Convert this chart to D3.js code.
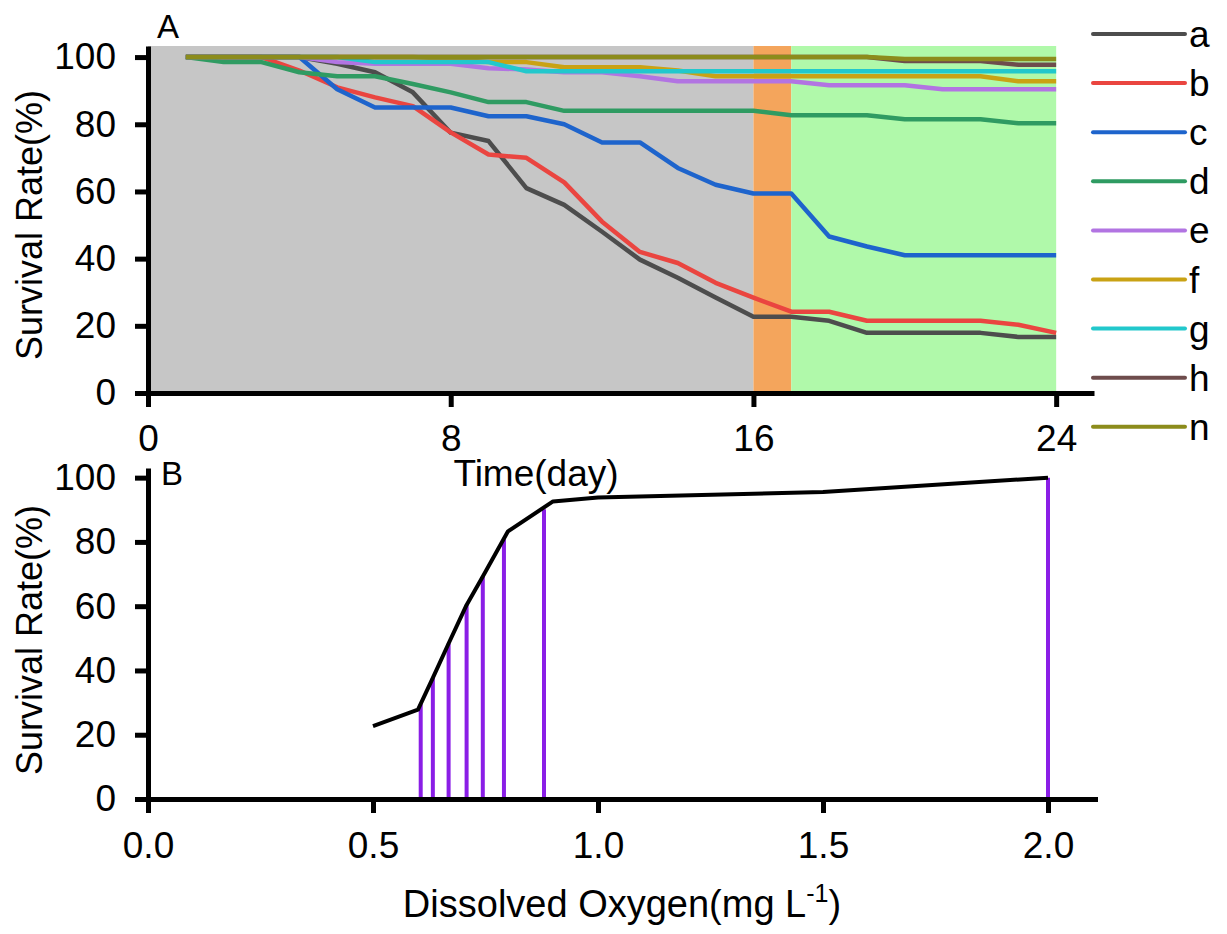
<!DOCTYPE html>
<html>
<head>
<meta charset="utf-8">
<script src="https://cdn.jsdelivr.net/npm/d3@7"></script>
<style>
  body { margin: 0; background: #fff; }
  svg text { font-family: "Liberation Sans", Arial, sans-serif; }
</style>
</head>
<body>
<svg id="chart" width="1227" height="934"></svg>
<script>
// panel A: survival over time, one value per day (day 1..24)
var days = d3.range(1, 25);
var seriesNames = ["a", "b", "c", "d", "e", "f", "g", "h", "n"];
var seriesColors = ["#4d4d4d", "#ea4540", "#1e64cc", "#2f9b62", "#b274e2", "#c9a214", "#22c8cc", "#6e4c4c", "#8c8c1c"];
var aVals = [100, 100, 100, 100, 98, 95.5, 89.5, 77.5, 75, 61, 56, 48, 39.7, 34.3, 28.4, 22.7, 22.7, 21.5, 17.9, 17.9, 17.9, 17.9, 16.7, 16.7];
var bVals = [100, 100, 100, 96, 91, 88, 85.4, 77.6, 71, 70, 62.7, 51, 42, 38.7, 32.8, 28.4, 24.2, 24.2, 21.5, 21.5, 21.5, 21.5, 20.3, 17.9];
var cVals = [100, 100, 100, 100, 90.4, 85, 85, 85, 82.4, 82.4, 80, 74.6, 74.6, 67, 62, 59.4, 59.4, 46.6, 43.6, 41, 41, 41, 41, 41];
var dVals = [100, 98.5, 98.5, 95.5, 94.3, 94.3, 92, 89.5, 86.6, 86.6, 84, 84, 84, 84, 84, 84, 82.7, 82.7, 82.7, 81.5, 81.5, 81.5, 80.3, 80.3];
var eVals = [100, 100, 100, 100, 98.5, 98, 98, 98, 96.7, 96.3, 95.5, 95.5, 94.3, 92.8, 92.8, 92.8, 92.8, 91.6, 91.6, 91.6, 90.4, 90.4, 90.4, 90.4];
var fVals = [100, 100, 100, 100, 100, 100, 100, 99.5, 98.5, 98.5, 97, 97, 97, 96, 94.3, 94.3, 94.3, 94.3, 94.3, 94.3, 94.3, 94.3, 92.8, 92.8];
var gVals = [100, 100, 100, 100, 100, 98.5, 98.5, 98.5, 98.5, 95.8, 95.8, 95.8, 95.8, 95.8, 95.8, 95.8, 95.8, 95.8, 95.8, 95.8, 95.8, 95.8, 95.8, 95.8];
var hVals = [100, 100, 100, 100, 100, 100, 100, 100, 100, 100, 100, 100, 100, 100, 100, 100, 100, 100, 100, 98.8, 98.8, 98.8, 97.7, 97.7];
var nVals = [100, 100, 100, 100, 100, 100, 100, 100, 100, 100, 100, 100, 100, 100, 100, 100, 100, 100, 100, 99.4, 99.4, 99.4, 99.4, 99.4];
var allVals = [aVals, bVals, cVals, dVals, eVals, fVals, gVals, hVals, nVals];
var xTicksA = [0, 8, 16, 24];
var yTicks = [0, 20, 40, 60, 80, 100];
// shaded periods (day ranges)
var periods = [[0, 16, "#c6c6c6"], [16, 17, "#f4a55c"], [17, 24, "#b0f9aa"]];

// panel B: survival vs dissolved oxygen
var doLine = [0.5, 0.6, 0.633, 0.668, 0.708, 0.744, 0.80, 0.90, 1.0, 1.5, 2.0];
var srLine = [22.7, 27.8, 37.7, 48.4, 60.4, 69.2, 83.3, 92.6, 93.8, 95.5, 100];
var doBars = [0.606, 0.633, 0.668, 0.708, 0.744, 0.791, 0.880, 2.0];
var srBars = [29.5, 37.7, 48.4, 60.4, 69.2, 80.8, 90.2, 100];
var xTicksB = [0, 0.5, 1.0, 1.5, 2.0];

var svg = d3.select("#chart");
var tickFont = 37;

function styleAxis(g) {
  g.selectAll("path").attr("stroke", "#000").attr("stroke-width", 5);
  g.selectAll("line").attr("stroke", "#000").attr("stroke-width", 5);
  g.selectAll("text").attr("fill", "#000").style("font-size", tickFont + "px")
    .style("font-family", "'Liberation Sans', Arial, sans-serif");
}

// ---------- Panel A ----------
var xA = d3.scaleLinear().domain([0, 25]).range([148, 1094]);
var yA = d3.scaleLinear().domain([0, 103.3]).range([393, 46]);

svg.append("g").selectAll("rect").data(periods).enter().append("rect")
  .attr("x", function (d) { return xA(d[0]); })
  .attr("width", function (d) { return xA(d[1]) - xA(d[0]); })
  .attr("y", yA(103.3))
  .attr("height", yA(0) - yA(103.3))
  .attr("fill", function (d) { return d[2]; });

var lineA = d3.line()
  .x(function (d, i) { return xA(days[i]); })
  .y(function (d) { return yA(d); });

svg.append("g").selectAll("path").data(allVals).enter().append("path")
  .attr("d", lineA)
  .attr("fill", "none")
  .attr("stroke", function (d, i) { return seriesColors[i]; })
  .attr("stroke-width", 4.5)
  .attr("stroke-linejoin", "round");

var gxA = svg.append("g").attr("transform", "translate(0," + yA(0) + ")")
  .call(d3.axisBottom(xA).tickValues(xTicksA).tickSize(14).tickSizeOuter(0).tickPadding(18));
styleAxis(gxA);
var gyA = svg.append("g").attr("transform", "translate(" + xA(0) + ",0)")
  .call(d3.axisLeft(yA).tickValues(yTicks).tickSize(13).tickSizeOuter(0).tickPadding(19));
styleAxis(gyA);

svg.append("text").attr("x", 157).attr("y", 38).style("font-size", "33px").text("A");
svg.append("text").attr("x", 536).attr("y", 486).attr("text-anchor", "middle")
  .style("font-size", "37px").text("Time(day)");
svg.append("text").attr("transform", "translate(42,225) rotate(-90)").attr("text-anchor", "middle")
  .style("font-size", "36px").text("Survival Rate(%)");

// legend
var legend = svg.append("g").selectAll("g").data(seriesNames).enter().append("g")
  .attr("transform", function (d, i) { return "translate(1093," + (34 + i * 49.1) + ")"; });
legend.append("line").attr("x1", 0).attr("x2", 92).attr("y1", 0).attr("y2", 0)
  .attr("stroke", function (d, i) { return seriesColors[i]; })
  .attr("stroke-width", 4).attr("stroke-linecap", "round");
legend.append("text").attr("x", 96).attr("y", 13).style("font-size", "37px")
  .text(function (d) { return d; });

// ---------- Panel B ----------
var xB = d3.scaleLinear().domain([0, 2.11]).range([148, 1097.5]);
var yB = d3.scaleLinear().domain([0, 103]).range([799, 468]);

svg.append("g").selectAll("line").data(doBars).enter().append("line")
  .attr("x1", function (d) { return xB(d); })
  .attr("x2", function (d) { return xB(d); })
  .attr("y1", yB(0))
  .attr("y2", function (d, i) { return yB(srBars[i]); })
  .attr("stroke", "#8a1ee6")
  .attr("stroke-width", 4);

var lineB = d3.line()
  .x(function (d, i) { return xB(doLine[i]); })
  .y(function (d) { return yB(d); });
svg.append("path").datum(srLine)
  .attr("d", lineB)
  .attr("fill", "none")
  .attr("stroke", "#000")
  .attr("stroke-width", 4)
  .attr("stroke-linejoin", "round");

var gxB = svg.append("g").attr("transform", "translate(0," + yB(0) + ")")
  .call(d3.axisBottom(xB).tickValues(xTicksB).tickFormat(d3.format(".1f")).tickSize(14).tickSizeOuter(0).tickPadding(19));
styleAxis(gxB);
var gyB = svg.append("g").attr("transform", "translate(" + xB(0) + ",0)")
  .call(d3.axisLeft(yB).tickValues(yTicks).tickSize(13).tickSizeOuter(0).tickPadding(19));
styleAxis(gyB);

svg.append("text").attr("x", 161).attr("y", 485).style("font-size", "33px").text("B");
svg.append("text").attr("transform", "translate(42,640) rotate(-90)").attr("text-anchor", "middle")
  .style("font-size", "36px").text("Survival Rate(%)");
var xt = svg.append("text").attr("x", 622).attr("y", 917).attr("text-anchor", "middle")
  .style("font-size", "38px");
xt.append("tspan").text("Dissolved Oxygen(mg L");
xt.append("tspan").attr("dy", -15).style("font-size", "25px").text("-1");
xt.append("tspan").attr("dy", 15).text(")");
</script>
</body>
</html>
